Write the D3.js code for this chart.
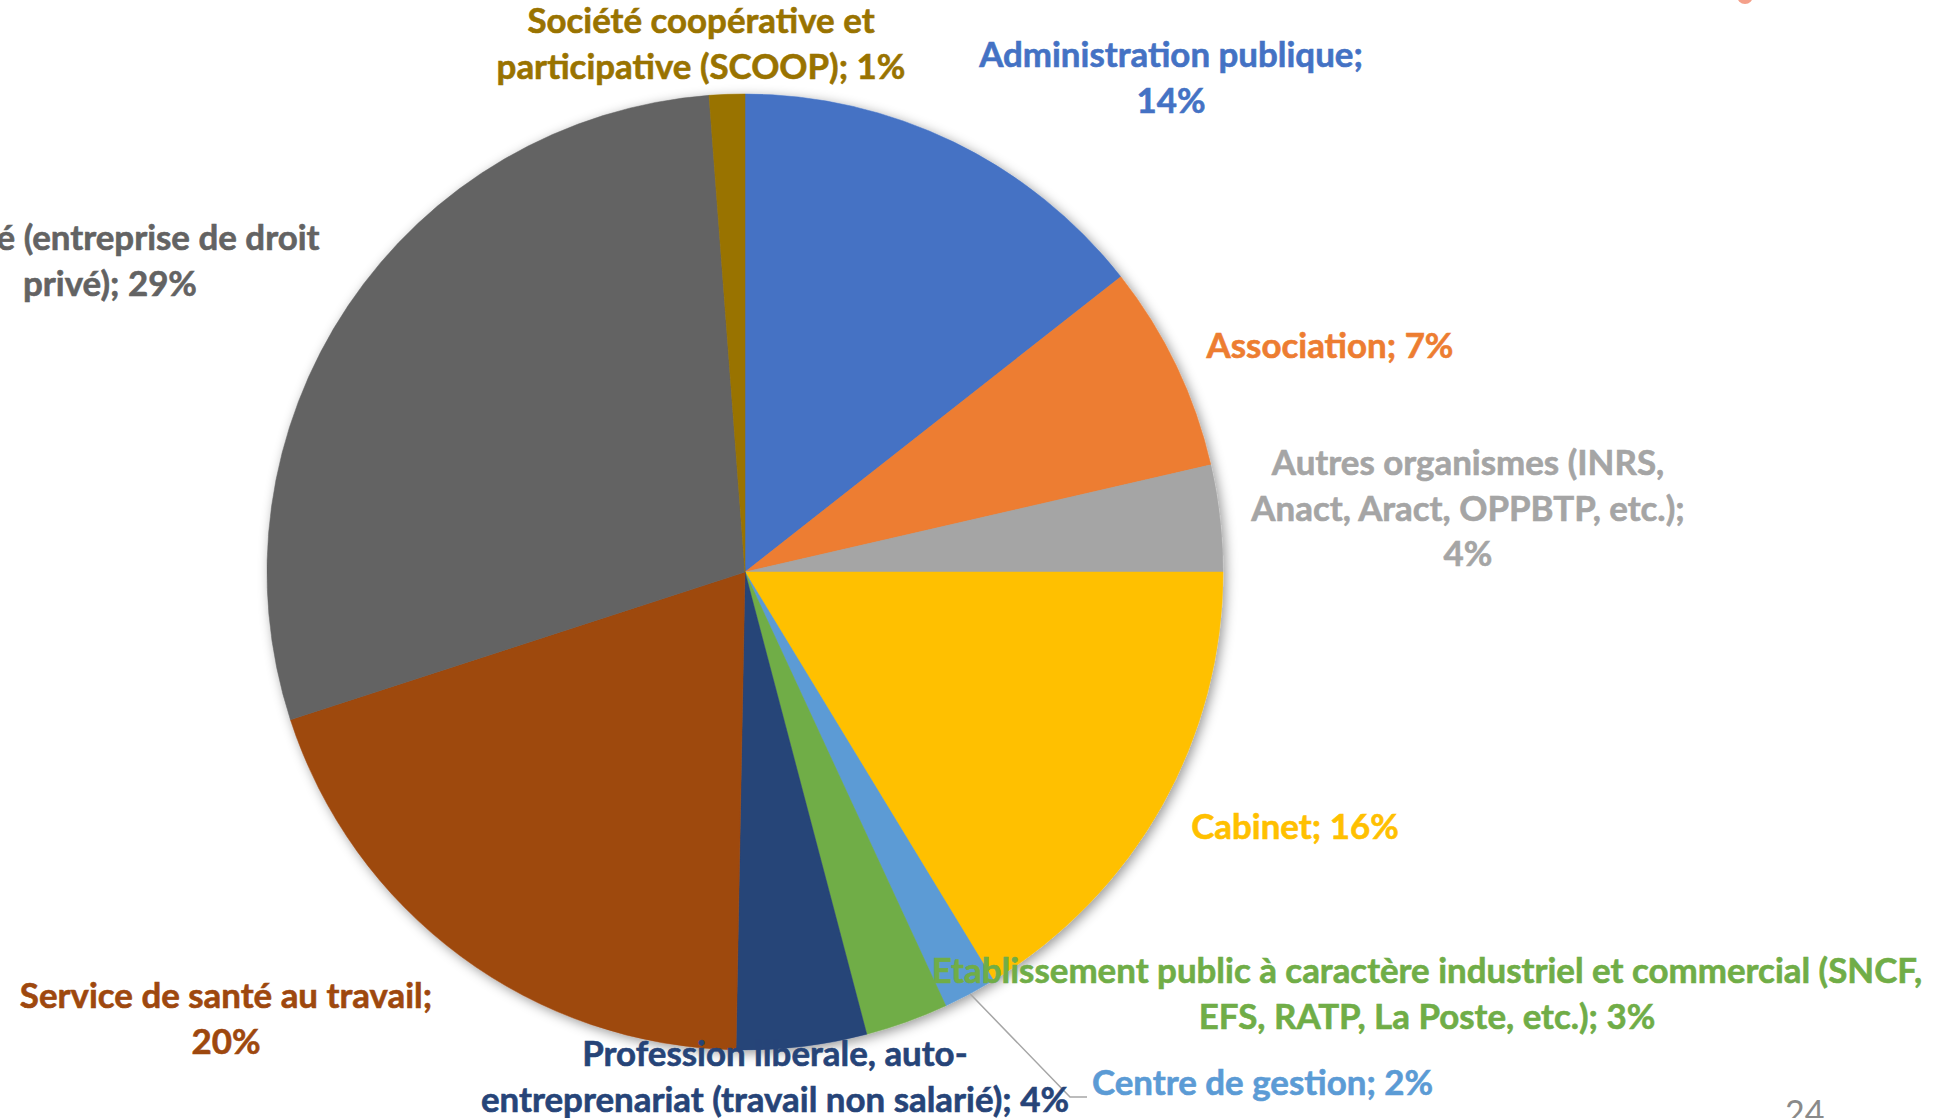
<!DOCTYPE html>
<html><head><meta charset="utf-8">
<script src="https://cdn.jsdelivr.net/npm/d3@7"></script>
<style>html,body{margin:0;padding:0;background:#fff;overflow:hidden}</style>
</head><body><svg id="c" width="1949" height="1118"></svg>
<script>
const categories = ["Administration publique","Association","Autres organismes (INRS, Anact, Aract, OPPBTP, etc.)","Cabinet","Centre de gestion","Etablissement public à caractère industriel et commercial (SNCF, EFS, RATP, La Poste, etc.)","Profession libérale, auto-entreprenariat (travail non salarié)","Service de santé au travail","Société (entreprise de droit privé)","Société coopérative et participative (SCOOP)"];
const values = [14.4, 7.0, 3.6, 16.3, 1.8, 2.8, 4.4, 19.7, 28.8, 1.2];
const colors = ["#4472C4","#ED7D31","#A5A5A5","#FFC000","#5B9BD5","#70AD47","#264478","#9E480E","#636363","#997300"];
const labelLines = [
  ["Administration publique;","{p}"],
  ["Association; {p}"],
  ["Autres organismes (INRS,","Anact, Aract, OPPBTP, etc.);","{p}"],
  ["Cabinet; {p}"],
  ["Centre de gestion; {p}"],
  ["Etablissement public à caractère industriel et commercial (SNCF,","EFS, RATP, La Poste, etc.); {p}"],
  ["Profession libérale, auto-","entreprenariat (travail non salarié); {p}"],
  ["Service de santé au travail;","{p}"],
  ["Société (entreprise de droit","privé); {p}"],
  ["Société coopérative et","participative (SCOOP); {p}"]
];
const pageNumber = "24";

// layout (not data)
const cx = 745, cy = 572, R = 478, lineH = 45.5;
const labelPos = [[1171,67,"middle"],[1330,358,"middle"],[1468,475,"middle"],[1295,839,"middle"],[1092,1095,"start"],[1427,983,"middle"],[775,1066,"middle"],[226,1008,"middle"],[110,250,"middle"],[701,33,"middle"]];

const svg = d3.select("#c");
const defs = svg.append("defs");
const f = defs.append("filter").attr("id","sh").attr("x","-20%").attr("y","-20%").attr("width","140%").attr("height","140%");
f.append("feDropShadow").attr("dx",3).attr("dy",3).attr("stdDeviation",6).attr("flood-color","#000").attr("flood-opacity",0.4);

// decorative dot top right
svg.append("circle").attr("cx",1745).attr("cy",-4).attr("r",8).attr("fill","#F4A08A");

const pie = d3.pie().sort(null).value(d => d)(values);
const arc = d3.arc().innerRadius(0).outerRadius(R);
const g = svg.append("g").attr("transform",`translate(${cx},${cy})`);
const sg = g.append("g").attr("filter","url(#sh)");
sg.selectAll("path").data(pie).join("path")
  .attr("d", arc).attr("fill",(d,i)=>colors[i]).attr("stroke",(d,i)=>colors[i]).attr("stroke-width",0.5);

// leader line for Centre de gestion
{
  const d = pie[4];
  const a = (d.startAngle + d.endAngle)/2;
  const x0 = cx + R*Math.sin(a), y0 = cy - R*Math.cos(a);
  svg.append("polyline").attr("points",`${x0},${y0} 1070,1097 1087,1097`)
    .attr("fill","none").attr("stroke","#A6A6A6").attr("stroke-width",1.5);
}

// font fitting
const probe = svg.append("text").attr("font-family","Lato").attr("font-weight",700).attr("font-size",30).text("Association; 7%");
const fs = 30 * 247 / probe.node().getComputedTextLength();
probe.remove();

const fmt = v => Math.round(v) + "%";
const lg = svg.append("g").attr("font-family","Lato, 'Open Sans', sans-serif").attr("font-weight",700).attr("font-size",fs);
labelLines.forEach((lines,i)=>{
  const [x,y,anchor] = labelPos[i];
  const t = lg.append("text").attr("text-anchor",anchor).attr("fill",colors[i])
    .attr("stroke",colors[i]).attr("stroke-width",0.6);
  lines.forEach((ln,j)=>{
    t.append("tspan").attr("x",x).attr("y",y + j*lineH).text(ln.replace("{p}", fmt(values[i])));
  });
});

svg.append("text").attr("x",1785).attr("y",1125).attr("font-family","Lato, sans-serif").attr("font-size",34).attr("fill","#8A8A8A").text(pageNumber);
</script></body></html>
